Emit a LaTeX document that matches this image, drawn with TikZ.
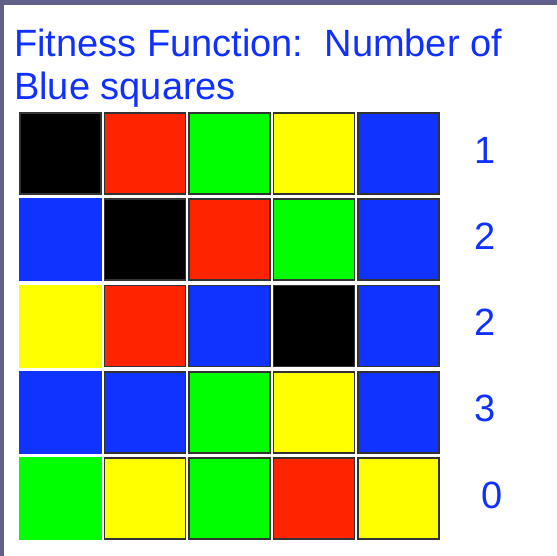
\documentclass[tikz,border=0pt]{standalone}
\usepackage{fontspec}
\setmainfont{Liberation Sans}
\definecolor{FrameClr}{RGB}{96,96,138}
\definecolor{TextClr}{RGB}{16,48,255}
\definecolor{SqBlack}{RGB}{0,0,0}
\definecolor{SqRed}{RGB}{255,36,0}
\definecolor{SqGreen}{RGB}{0,255,0}
\definecolor{SqYellow}{RGB}{255,255,0}
\definecolor{SqBlue}{RGB}{16,51,255}

\begin{document}
\begin{tikzpicture}[x=1pt,y=-1pt,
  cell/.style={draw=black!80,line width=1.6pt,minimum width=81pt,minimum height=81pt,inner sep=0pt,outer sep=0pt},
  flatcell/.style={minimum width=83pt,minimum height=83pt,inner sep=0pt,outer sep=0pt},
  title/.style={anchor=base west,inner sep=0pt,text=TextClr,font=\fontsize{38}{44}\selectfont},
  score/.style={inner sep=0pt,text=TextClr,font=\fontsize{38}{44}\selectfont}]
\useasboundingbox (0,0) rectangle (557,556);
\fill[FrameClr] (0,0) rectangle (557,556);
\fill[white] (4,5) rectangle (557,556);

% heading
\node[title] (title-a) at (14,57) {Fitness Function:\ \ Number of};
\node[title] (title-b) at (14,100) {Blue squares};

% the five strings
\foreach \row [count=\r] in {{SqBlack,SqRed,SqGreen,SqYellow,SqBlue},
                             {SqBlue,SqBlack,SqRed,SqGreen,SqBlue},
                             {SqYellow,SqRed,SqBlue,SqBlack,SqBlue},
                             {SqBlue,SqBlue,SqGreen,SqYellow,SqBlue},
                             {SqGreen,SqYellow,SqGreen,SqRed,SqYellow}}{
  \foreach \clr [count=\k] in \row {
    \ifnum\k=1 \ifnum\r>1 \def\sty{flatcell}\else\def\sty{cell}\fi\else\def\sty{cell}\fi
    \node[\sty,fill=\clr] (sq-\r-\k) at ({60.5+84.5*(\k-1)},{153.5+86.25*(\r-1)}) {};
  }
}

% fitness values
\foreach \n/\r in {1/1,2/2,2/3,3/4}
  \node[score] (score-\r) at (485,{150+86.25*(\r-1)}) {\n};
\node[score] (score-5) at (492,{150+86.25*4}) {0};
\end{tikzpicture}
\end{document}
